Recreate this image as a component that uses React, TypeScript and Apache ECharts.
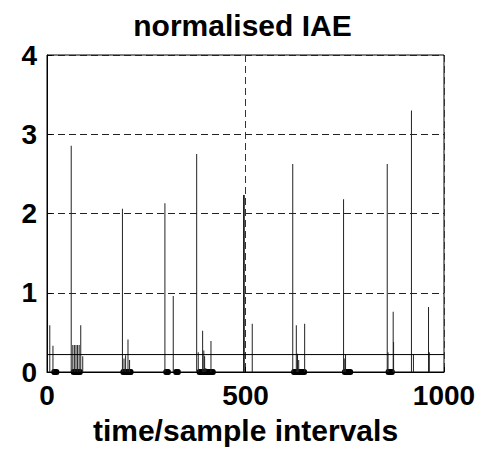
import React, { useEffect, useRef } from "react";
import * as echarts from "echarts";

// Spike times (sample intervals) and normalised IAE values
const spikeTimes = [
  7, 15, 61, 65, 69, 73, 77, 81, 85, 90,
  190, 194, 198, 204, 208, 297, 318,
  377, 381, 392, 395, 397, 400, 413,
  495, 497, 517,
  619, 628, 631, 634, 649,
  747, 750, 752,
  857, 859, 872, 873,
  918, 923, 961, 963,
];
const spikeValues = [
  0.59, 0.33, 2.855, 0.34, 0.34, 0.34, 0.34, 0.34, 0.59, 0.2,
  2.06, 0.17, 0.21, 0.41, 0.15, 2.13, 0.96,
  2.75, 0.25, 0.52, 0.27, 0.2, 0.05, 0.39,
  2.235, 2.235, 0.61,
  2.625, 0.59, 0.23, 0.15, 0.61,
  2.18, 0.17, 0.22,
  2.625, 0.25, 0.76, 0.38,
  3.3, 0.22, 0.82, 0.25,
];
// Clusters of near-zero samples drawn as dark blobs on the baseline
const clusterStarts = [11, 60, 185, 293, 318, 377, 615, 743, 853];
const clusterEnds = [31, 90, 218, 312, 337, 425, 655, 771, 876];
// Threshold line
const thresholdValue = 0.22;
const xRange = [0, 1000];
const yRange = [0, 4];

const FONT = "'Liberation Sans', Arial, Helvetica, sans-serif";

export default function App() {
  const ref = useRef<HTMLDivElement>(null);
  useEffect(() => {
    if (!ref.current) return;
    const chart = echarts.init(ref.current, null, { renderer: "svg" });
    const spikes = spikeTimes.map((t, i) => [t, spikeValues[i]]);
    const clusters = clusterStarts.map((s, i) => [s, clusterEnds[i], 0]);
    chart.setOption({
      animation: false,
      backgroundColor: "#fff",
      title: {
        text: "normalised IAE",
        left: "center",
        top: 5,
        textStyle: { fontFamily: FONT, fontWeight: "bold", fontSize: 30, color: "#000" },
      },
      grid: {
        left: 47,
        right: 41,
        top: 55,
        bottom: 78,
        show: true,
        borderColor: "#000",
        borderWidth: 1,
        backgroundColor: "transparent",
      },
      xAxis: {
        type: "value",
        min: xRange[0],
        max: xRange[1],
        interval: 500,
        name: "time/sample intervals",
        nameLocation: "middle",
        nameGap: 43,
        nameTextStyle: { fontFamily: FONT, fontWeight: "bold", fontSize: 30, color: "#000" },
        axisLine: { show: true, lineStyle: { color: "#000", width: 1 } },
        axisTick: { show: true, inside: true, length: 5, lineStyle: { color: "#000" } },
        axisLabel: {
          fontFamily: FONT,
          fontWeight: "bold",
          fontSize: 28,
          color: "#000",
          margin: 9,
          formatter: (v: number) => String(v),
        },
        splitLine: { show: true, lineStyle: { color: "#333", type: [7, 4], width: 1 } },
      },
      yAxis: {
        type: "value",
        min: yRange[0],
        max: yRange[1],
        interval: 1,
        axisLine: { show: true, lineStyle: { color: "#000", width: 1 } },
        axisTick: { show: true, inside: true, length: 5, lineStyle: { color: "#000" } },
        axisLabel: { fontFamily: FONT, fontWeight: "bold", fontSize: 28, color: "#000", margin: 10 },
        splitLine: { show: true, lineStyle: { color: "#222", type: [7, 4], width: 1 } },
      },
      series: [
        {
          type: "bar",
          data: spikes,
          barWidth: 1,
          itemStyle: { color: "#222" },
          silent: true,
        },
        {
          type: "line",
          data: [[xRange[0], thresholdValue], [xRange[1], thresholdValue]],
          symbol: "none",
          lineStyle: { color: "#000", width: 1 },
          silent: true,
        },
        {
          type: "custom",
          clip: false,
          silent: true,
          encode: { x: [0, 1], y: 2 },
          data: clusters,
          renderItem: (params: any, api: any) => {
            const s = api.coord([api.value(0), 0]);
            const e = api.coord([api.value(1), 0]);
            return {
              type: "rect",
              shape: { x: s[0], y: s[1] - 3, width: e[0] - s[0], height: 6, r: 2.5 },
              style: { fill: "#000" },
            };
          },
        },
      ],
    });
    return () => chart.dispose();
  }, []);
  return (
    <div
      ref={ref}
      style={{ position: "fixed", left: 0, top: 0, width: 485, height: 450, background: "#fff" }}
    />
  );
}
